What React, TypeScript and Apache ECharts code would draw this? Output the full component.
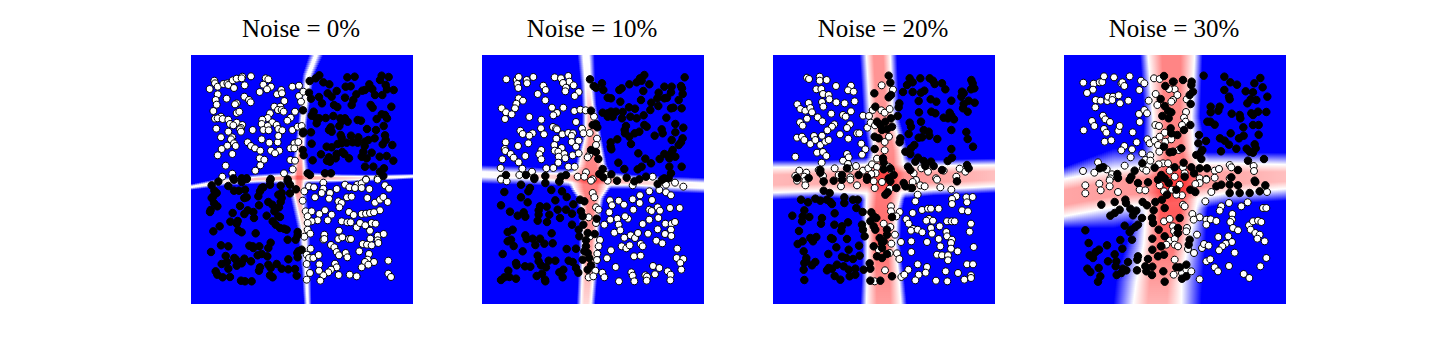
import React, { useEffect, useRef } from "react";
import * as echarts from "echarts";

type P = number[];

const titles = ["Noise = 0%", "Noise = 10%", "Noise = 20%", "Noise = 30%"];

const white0Top: P[] = [[88,92],[90,100],[74,117],[98,110],[115,102],[127,100],[130,105],[143,91],[155,86],[172,80],[170,85],[198,79],[179,106],[147,114],[98,133],[125,146],[92,150],[95,164],[85,183],[155,160],[150,163],[178,140],[192,150],[197,157],[155,189],[163,185],[108,200],[90,206],[98,205],[113,207],[130,209],[135,222],[155,218],[172,225],[168,234],[165,238],[145,226],[94,236],[130,245],[168,245],[203,240],[108,262],[142,262],[138,268],[127,287],[110,297],[147,280],[152,288],[98,316],[142,312],[188,277],[198,288],[210,295],[226,302],[224,325],[238,329],[226,346],[122,347],[142,371],[112,380],[211,362],[242,85],[250,88],[235,104],[258,110],[224,126],[246,118],[276,133],[289,120],[291,130],[298,153],[268,170],[286,170],[279,180],[290,180],[296,185],[330,185],[255,190],[317,203],[307,212],[248,204],[232,209],[230,222],[262,217],[248,228],[275,225],[280,237],[292,241],[235,240],[251,241],[322,240],[338,230],[350,228],[230,268],[253,278],[278,277],[280,258],[328,280],[340,276],[316,295],[328,295],[258,302],[283,302],[270,310],[316,330],[330,332],[323,358],[297,370],[322,110],[342,107],[342,138],[348,155],[355,125],[543,388],[578,385]];
const black0Top: P[] = [[374,93],[392,85],[403,76],[415,97],[433,103],[487,82],[509,80],[590,77],[585,90],[611,81],[372,128],[378,146],[402,141],[411,160],[428,130],[440,140],[455,123],[482,110],[497,109],[514,133],[532,122],[540,120],[553,103],[562,117],[570,135],[592,135],[602,105],[606,118],[626,120],[480,143],[505,150],[447,165],[457,171],[500,165],[557,165],[563,173],[619,170],[354,181],[386,185],[380,197],[393,203],[403,205],[422,204],[445,198],[466,205],[470,214],[480,205],[488,215],[463,228],[395,220],[518,210],[528,212],[575,207],[590,193],[600,195],[606,205],[596,228],[437,232],[432,240],[440,245],[546,237],[573,240],[354,250],[378,247],[355,245],[467,255],[470,263],[498,257],[520,262],[600,256],[569,265],[550,270],[540,275],[602,270],[622,285],[593,283],[539,288],[380,281],[425,290],[440,292],[458,282],[470,280],[485,278],[503,277],[518,278],[353,300],[356,316],[383,331],[408,313],[432,322],[426,332],[435,335],[455,312],[472,306],[478,312],[452,325],[492,325],[535,305],[530,320],[545,325],[560,308],[584,320],[605,318],[625,332],[540,350],[565,350],[597,355],[585,365],[420,370],[438,370],[368,370],[375,375],[145,385],[170,385],[185,385],[257,387],[308,388],[595,378]];
const white0Bottom: P[] = [[415,14],[372,25],[387,28],[415,32],[410,45],[358,40],[435,45],[455,33],[480,20],[493,28],[517,20],[530,16],[510,30],[530,30],[553,33],[543,5],[578,5],[600,22],[612,32],[390,58],[432,62],[353,68],[486,58],[500,56],[460,70],[470,75],[463,88],[547,60],[570,74],[585,65],[595,57],[608,72],[585,97],[362,100],[380,100],[368,115],[420,97],[403,108],[440,110],[398,127],[428,127],[380,130],[368,135],[492,102],[506,111],[530,108],[543,107],[555,105],[567,103],[470,130],[487,133],[497,133],[515,148],[525,135],[541,142],[560,135],[572,137],[555,158],[368,155],[376,167],[358,176],[462,158],[460,183],[472,178],[492,183],[498,183],[418,170],[415,185],[418,183],[556,182],[578,173],[596,168],[578,187],[580,195],[533,198],[546,200],[560,202],[438,201],[448,208],[455,222],[462,232],[482,225],[487,238],[377,212],[523,220],[552,228],[365,230],[372,240],[385,240],[401,231],[548,245],[540,252],[567,252],[550,260],[365,258],[403,259],[450,257],[455,268],[438,275],[430,283],[415,292],[402,278],[375,285],[610,248],[530,268],[494,290],[515,295],[461,291],[365,305],[406,308],[610,287],[618,297]];
const black0Bottom: P[] = [[80,22],[100,11],[147,5],[170,12],[185,3],[130,24],[255,8],[255,20],[287,23],[308,10],[315,20],[333,34],[315,46],[88,38],[95,45],[85,55],[80,60],[147,38],[162,38],[180,35],[185,58],[178,60],[230,30],[225,40],[235,28],[220,55],[290,45],[280,50],[290,60],[287,72],[250,72],[262,80],[222,82],[282,88],[270,95],[97,85],[87,75],[77,96],[75,102],[165,84],[188,97],[205,102],[178,108],[143,105],[207,120],[245,113],[268,100],[280,115],[285,117],[263,130],[272,140],[285,150],[297,152],[305,155],[136,131],[158,129],[155,137],[104,145],[85,160],[160,157],[170,163],[212,166],[338,162],[338,172],[332,185],[308,185],[257,194],[250,210],[108,202],[130,205],[193,203],[203,205],[205,210],[223,205],[78,222],[340,220],[350,215],[337,225],[338,238],[122,234],[148,240],[153,245],[178,242],[218,232],[230,228],[247,235],[310,244],[198,250],[110,258],[126,252],[155,263],[170,256],[130,272],[222,278],[225,268],[250,260],[257,270],[275,258],[290,272],[310,274],[330,273],[92,280],[97,290],[113,298],[135,297],[255,292],[263,298],[335,293],[168,308],[180,310],[200,310]];

const white1Top: P[] = [[91,88],[122,90],[128,81],[124,102],[127,114],[152,90],[153,100],[172,81],[202,107],[209,120],[185,132],[208,151],[128,145],[141,152],[121,161],[77,175],[117,175],[90,187],[107,193],[87,207],[160,201],[196,209],[228,173],[262,173],[243,189],[232,196],[236,82],[255,85],[277,78],[280,95],[261,99],[270,113],[268,124],[293,106],[308,126],[296,138],[295,183],[313,179],[329,181],[354,200],[300,216],[133,242],[140,252],[170,250],[160,257],[195,235],[204,253],[231,231],[240,235],[243,238],[259,253],[277,249],[291,250],[287,258],[241,266],[287,276],[308,272],[318,236],[341,249],[322,250],[89,277],[126,288],[157,280],[86,297],[88,303],[235,285],[300,290],[257,294],[196,300],[190,313],[236,302],[247,305],[265,312],[248,320],[290,316],[308,310],[268,325],[104,312],[113,323],[148,318],[79,328],[196,328],[128,337],[74,354],[139,356],[211,355],[232,354],[247,338],[277,350],[296,350],[168,365],[130,375],[75,386],[363,266],[360,285],[340,315],[335,322],[305,380],[330,367],[325,380],[350,388],[390,375],[530,380]];
const black1Top: P[] = [[342,88],[353,108],[360,113],[378,100],[382,120],[437,115],[430,120],[460,103],[482,97],[492,85],[505,75],[497,92],[520,103],[626,82],[502,123],[565,110],[587,110],[615,108],[618,115],[585,127],[620,132],[548,128],[544,145],[565,145],[573,143],[608,150],[395,143],[405,145],[433,155],[495,150],[526,158],[547,168],[585,175],[592,173],[617,175],[459,172],[477,176],[345,182],[380,188],[395,190],[395,200],[405,185],[410,200],[420,185],[440,186],[438,205],[463,200],[482,205],[503,196],[523,180],[571,203],[350,225],[360,222],[364,232],[450,228],[446,240],[505,225],[512,230],[598,222],[622,233],[557,238],[598,247],[447,250],[490,245],[476,250],[460,260],[536,257],[560,250],[424,268],[404,277],[465,282],[587,270],[620,265],[615,277],[608,285],[404,290],[406,298],[345,300],[360,306],[487,310],[590,300],[585,310],[565,312],[580,325],[598,320],[367,327],[508,326],[551,327],[427,338],[525,340],[497,350],[485,358],[445,357],[580,350],[617,350],[380,357],[370,372],[406,373],[382,382],[90,375],[150,375],[175,383],[208,378],[255,380],[270,375],[452,383],[490,388],[510,380],[565,385],[578,385],[585,370]];
const white1Bottom: P[] = [[75,5],[92,10],[250,12],[345,8],[395,8],[470,22],[520,40],[550,36],[597,14],[570,20],[622,26],[570,43],[585,52],[350,45],[355,58],[360,88],[368,95],[402,67],[428,68],[408,82],[444,80],[470,64],[491,75],[492,52],[528,66],[472,95],[520,95],[527,99],[545,88],[552,98],[582,90],[611,90],[400,103],[403,125],[424,122],[456,122],[447,115],[428,140],[385,140],[338,118],[360,135],[500,138],[520,125],[547,120],[568,137],[587,137],[597,132],[545,154],[567,168],[585,155],[586,174],[415,164],[433,157],[445,179],[464,172],[477,180],[486,165],[516,167],[342,175],[372,186],[368,205],[541,188],[559,196],[494,198],[500,205],[437,205],[451,211],[461,202],[405,217],[364,227],[363,246],[393,241],[474,235],[494,233],[604,212],[602,240],[622,243],[613,255],[616,275],[419,267],[358,278],[379,284],[385,298],[338,298],[352,295],[466,283],[470,293],[531,264],[550,270],[537,289],[575,280],[584,290],[583,307],[508,292],[513,296],[512,308],[429,310],[475,310]];
const black1Bottom: P[] = [[135,20],[175,3],[208,15],[250,10],[423,8],[475,10],[545,18],[558,5],[85,42],[162,30],[157,40],[135,58],[155,73],[75,82],[226,36],[258,40],[272,57],[238,67],[312,65],[325,70],[292,79],[192,85],[212,86],[188,97],[102,101],[125,113],[143,103],[148,116],[188,110],[220,110],[245,95],[270,95],[288,107],[315,100],[320,115],[252,120],[185,128],[213,132],[288,140],[322,140],[362,122],[95,162],[110,155],[227,166],[308,155],[148,172],[152,183],[170,182],[192,182],[105,185],[95,190],[113,204],[178,201],[205,197],[230,196],[310,175],[335,165],[356,168],[330,187],[272,213],[300,212],[330,205],[325,220],[140,220],[80,228],[185,233],[120,255],[122,262],[147,265],[163,266],[188,250],[218,248],[238,248],[195,262],[210,268],[278,248],[290,252],[320,245],[340,240],[335,225],[345,262],[335,275],[300,270],[307,284],[97,278],[262,275],[250,283],[260,298],[198,287],[182,294],[75,306],[85,298],[100,297],[120,302],[207,305],[208,310]];

const white2Top: P[] = [[120,83],[126,87],[158,80],[158,92],[179,90],[207,108],[148,118],[163,117],[168,132],[185,135],[187,148],[165,156],[169,170],[208,157],[233,160],[252,107],[243,121],[260,125],[263,154],[91,163],[125,159],[100,177],[115,182],[130,174],[135,187],[193,191],[120,206],[99,217],[107,227],[152,202],[166,214],[202,223],[195,230],[181,241],[228,195],[236,200],[252,184],[249,223],[240,234],[288,197],[306,198],[301,233],[311,218],[324,226],[219,253],[244,266],[270,250],[277,250],[90,263],[105,260],[112,270],[130,282],[141,258],[145,270],[160,285],[175,275],[185,270],[165,257],[283,281],[295,298],[285,314],[150,308],[168,306],[178,318],[85,320],[164,338],[240,312],[245,322],[228,332],[243,342],[267,348],[330,326],[344,106],[378,119],[317,180],[343,181],[353,188],[368,177],[353,276],[366,260],[353,301],[203,355],[248,356],[288,362],[304,355],[315,343],[330,351],[326,370],[97,362],[85,378],[118,368],[112,380],[155,360],[168,378],[215,375],[250,382],[313,372],[365,350],[372,360],[463,355],[440,370],[483,365],[507,385],[530,362],[568,380],[578,356],[595,365],[447,390]];
const black2Top: P[] = [[365,77],[370,98],[322,130],[372,135],[365,142],[325,170],[397,160],[395,172],[392,198],[408,126],[437,126],[462,128],[472,122],[428,85],[437,97],[420,105],[460,85],[488,85],[498,92],[503,102],[525,100],[535,118],[613,90],[617,100],[622,115],[612,118],[585,125],[590,130],[583,140],[553,152],[491,148],[508,155],[455,153],[605,152],[623,158],[590,162],[588,175],[602,185],[456,187],[493,185],[505,190],[548,188],[530,203],[543,205],[553,197],[561,208],[462,215],[428,218],[432,230],[425,252],[330,215],[340,225],[355,215],[372,205],[375,230],[345,240],[360,238],[323,260],[335,265],[400,265],[398,277],[470,240],[485,245],[465,262],[455,263],[487,257],[553,240],[598,246],[602,267],[511,267],[618,290],[442,285],[432,295],[415,305],[430,312],[553,297],[323,297],[348,325],[350,338],[555,323],[542,333],[453,323],[445,335],[470,333],[492,335],[500,348],[423,350],[430,360],[475,348],[600,345],[605,355],[525,360],[380,375],[370,355],[350,358],[275,375],[240,355],[300,382],[225,375],[160,360],[365,385],[160,368]];
const white2Bottom: P[] = [[90,8],[115,8],[115,22],[170,12],[222,25],[250,5],[270,22],[320,10],[323,30],[345,12],[368,32],[430,30],[437,12],[460,22],[473,25],[510,5],[520,28],[553,35],[452,50],[445,70],[568,55],[555,63],[555,78],[598,58],[617,57],[600,73],[585,97],[603,100],[372,85],[372,100],[398,102],[388,115],[437,105],[465,96],[483,92],[492,92],[515,92],[418,124],[425,137],[438,153],[432,158],[452,155],[466,163],[486,123],[478,128],[498,128],[518,145],[492,150],[495,167],[540,130],[554,130],[563,130],[612,137],[608,161],[538,162],[540,175],[555,185],[515,183],[552,195],[520,205],[480,192],[433,190],[402,192],[350,137],[370,147],[384,170],[373,197],[335,215],[620,207],[552,212],[572,220],[510,230],[525,232],[543,232],[433,222],[390,226],[397,243],[368,225],[543,247],[452,259],[480,267],[424,275],[476,284],[455,290],[403,297],[412,290],[354,277],[323,310],[445,307],[507,308],[541,310],[536,280],[573,285],[592,305],[612,292],[612,300],[600,259],[618,259]];
const black2Bottom: P[] = [[90,0],[200,8],[170,10],[125,0],[225,5],[300,5],[370,10],[410,15],[415,25],[435,30],[388,30],[170,38],[188,45],[355,50],[362,43],[570,10],[102,65],[123,73],[145,62],[160,68],[180,65],[190,72],[195,78],[232,58],[232,75],[258,65],[272,65],[268,90],[287,102],[112,97],[76,113],[107,115],[127,117],[105,130],[165,120],[162,137],[203,106],[202,140],[243,133],[225,145],[223,158],[96,159],[313,103],[320,115],[328,120],[310,130],[320,145],[325,155],[360,155],[285,140],[288,155],[293,175],[375,117],[148,177],[130,180],[138,190],[107,190],[92,198],[192,180],[197,183],[240,183],[208,208],[245,215],[276,203],[338,180],[350,190],[345,195],[360,170],[320,205],[345,210],[110,220],[184,228],[278,233],[225,236],[238,240],[258,243],[330,235],[345,240],[360,228],[118,240],[118,250],[145,252],[112,255],[110,275],[135,262],[210,260],[230,265],[245,275],[185,270],[195,272],[180,277],[265,272],[290,275],[308,256],[310,272],[203,294],[220,305],[248,295],[265,290],[112,306],[310,308],[340,308],[375,295]];

const white3Top: P[] = [[76,98],[107,101],[105,119],[87,129],[125,97],[133,96],[138,79],[168,82],[215,79],[190,100],[193,97],[199,108],[249,92],[259,100],[244,120],[113,150],[128,152],[148,153],[150,140],[165,140],[182,136],[186,160],[211,152],[112,172],[163,150],[272,152],[288,85],[305,87],[293,132],[298,165],[348,95],[350,118],[333,117],[358,135],[345,150],[340,155],[386,148],[384,186],[243,192],[259,180],[267,190],[245,216],[135,197],[142,208],[156,216],[102,213],[109,228],[77,241],[138,237],[145,248],[140,275],[160,271],[181,242],[185,228],[224,247],[292,225],[303,228],[320,248],[378,203],[383,215],[372,225],[236,277],[268,268],[275,280],[290,272],[305,260],[300,285],[322,275],[340,268],[199,288],[190,301],[222,298],[218,322],[200,347],[304,305],[253,310],[277,316],[262,330],[277,332],[255,355],[315,340],[302,343],[330,340],[362,300],[335,362],[265,362],[120,337],[138,352],[146,358],[162,373],[75,363],[109,368],[157,385],[375,352],[470,362],[483,357],[515,345],[520,352],[587,348],[588,363],[425,385],[470,383],[445,387],[350,380],[380,370],[515,385]];
const black3Top: P[] = [[318,78],[322,108],[308,147],[345,95],[375,90],[401,95],[400,105],[437,77],[405,125],[395,135],[398,162],[320,168],[330,182],[340,187],[313,198],[332,205],[338,235],[397,225],[378,240],[358,255],[340,250],[423,255],[421,280],[444,273],[448,215],[470,224],[457,215],[458,187],[458,170],[485,170],[481,182],[499,80],[517,97],[537,104],[499,120],[563,124],[585,127],[589,100],[607,84],[614,112],[628,140],[513,140],[515,148],[595,150],[578,148],[568,160],[521,191],[545,195],[547,205],[580,190],[600,185],[625,186],[585,195],[556,232],[585,225],[602,225],[518,250],[543,265],[557,257],[602,254],[486,265],[500,272],[513,284],[535,296],[566,296],[590,283],[593,295],[489,304],[575,305],[585,308],[570,332],[618,327],[433,300],[415,315],[430,327],[430,305],[370,295],[318,290],[335,307],[345,305],[350,352],[377,338],[253,340],[290,353],[400,352],[425,355],[447,355],[230,362],[135,352],[125,355],[178,372],[220,380],[310,375],[380,380],[408,370],[540,360],[320,385],[520,382],[590,392]];
const white3Bottom: P[] = [[82,22],[82,46],[124,17],[128,37],[155,7],[155,25],[180,42],[245,35],[262,37],[305,22],[330,10],[365,20],[318,40],[342,35],[372,52],[355,50],[425,15],[445,5],[412,18],[460,42],[627,42],[442,70],[513,75],[569,73],[550,85],[490,85],[485,98],[523,108],[615,90],[625,90],[375,80],[380,85],[403,108],[425,118],[407,125],[445,125],[458,124],[475,129],[445,140],[318,130],[335,123],[345,145],[387,150],[385,160],[348,160],[354,172],[522,125],[517,132],[525,150],[540,157],[573,142],[585,130],[600,128],[610,132],[578,155],[592,165],[605,170],[598,182],[620,190],[417,170],[481,177],[511,175],[522,192],[503,197],[493,205],[483,217],[530,224],[432,210],[438,198],[452,203],[335,188],[350,183],[350,200],[360,205],[325,200],[308,205],[390,213],[408,225],[350,245],[625,240],[445,250],[457,244],[513,264],[607,265],[470,268],[480,280],[557,288],[574,300],[425,304],[347,290],[372,285],[385,275],[400,280]];
const black3Bottom: P[] = [[180,0],[240,15],[270,13],[300,5],[332,15],[215,5],[412,42],[355,35],[397,35],[475,25],[490,20],[515,20],[540,22],[592,12],[622,22],[605,40],[515,45],[545,45],[575,45],[130,80],[170,72],[202,65],[204,75],[254,72],[267,82],[292,72],[312,65],[327,50],[320,90],[287,97],[185,95],[170,105],[157,113],[217,92],[235,98],[225,112],[252,120],[282,120],[285,135],[365,120],[200,143],[240,140],[232,147],[220,155],[215,162],[82,157],[302,155],[320,175],[360,150],[360,165],[395,185],[222,185],[187,186],[283,182],[92,195],[147,202],[193,212],[123,215],[113,222],[95,232],[105,240],[170,229],[283,215],[392,200],[310,205],[318,230],[300,235],[240,235],[238,245],[150,250],[210,252],[270,243],[175,250],[173,265],[122,270],[88,272],[97,282],[195,272],[205,277],[190,285],[237,277],[262,265],[265,280],[283,266],[316,280],[282,291],[127,295],[176,291],[120,311],[320,311],[355,268],[365,268],[385,260],[372,302],[385,295]];

// Band stations: [position along the band, centre, outer half width, inner half width, red strength]
const vertical0: P[] = [[0,375,22,4,0],[60,352,18,5,0],[200,335,14,5,0.05],[300,327,20,9,0.3],[360,325,32,16,0.5],[420,322,26,12,0.35],[520,338,20,6,0.08],[650,346,14,3,0],[747,350,12,2,0]];
const horizontal0: P[] = [[0,396,9,2,0],[100,380,13,4,0.08],[200,372,15,6,0.25],[320,368,20,9,0.35],[450,370,13,6,0.2],[560,368,10,3,0.05],[666,364,8,2,0]];
const vertical1: P[] = [[0,312,26,9,0],[90,318,22,8,0.02],[150,322,22,10,0.2],[250,330,30,20,0.42],[330,328,48,36,0.48],[370,325,70,58,0.5],[400,325,62,50,0.5],[430,325,42,30,0.5],[470,325,34,22,0.45],[620,320,30,18,0.35],[747,312,28,15,0.15]];
const horizontal1: P[] = [[0,358,28,8,0],[120,362,28,8,0.05],[220,366,26,10,0.2],[320,372,30,18,0.4],[450,380,22,10,0.22],[560,388,24,8,0.08],[666,392,24,8,0]];
const vertical2: P[] = [[0,316,56,36,0.42],[185,325,54,34,0.42],[285,345,60,40,0.45],[360,340,72,56,0.5],[470,325,62,46,0.55],[570,325,57,42,0.6],[670,330,64,48,0.45],[747,332,70,52,0.38]];
const horizontal2: P[] = [[0,375,60,38,0.28],[150,372,56,36,0.32],[320,372,66,46,0.45],[480,368,54,36,0.38],[666,362,52,32,0.25]];
const vertical3: P[] = [[0,322,94,70,0.48],[185,325,84,58,0.48],[285,330,95,60,0.5],[360,335,120,80,0.55],[470,320,110,74,0.65],[570,305,120,66,0.55],[680,285,130,68,0.38],[747,280,132,72,0.3]];
const horizontal3: P[] = [[0,428,92,56,0.35],[150,400,120,56,0.38],[320,385,95,60,0.45],[480,370,78,46,0.35],[666,365,72,36,0.25]];

const panelLefts = [191, 482, 773, 1064];
const panelTop = 55;
const panelWidth = 222;
const panelHeight = 249;
const domainX = 666;
const domainY = 747;
const topCropDx = 18;
const topCropDy = 15;
const bottomCropDy = -369;

const panels = [
  { white: [white0Top, white0Bottom], black: [black0Top, black0Bottom], v: vertical0, h: horizontal0 },
  { white: [white1Top, white1Bottom], black: [black1Top, black1Bottom], v: vertical1, h: horizontal1 },
  { white: [white2Top, white2Bottom], black: [black2Top, black2Bottom], v: vertical2, h: horizontal2 },
  { white: [white3Top, white3Bottom], black: [black3Top, black3Bottom], v: vertical3, h: horizontal3 },
];

const merge = (parts: P[][]) => [
  ...parts[0].map(([x, y]) => [x - topCropDx, y - topCropDy]),
  ...parts[1].map(([x, y]) => [x - topCropDx, y - bottomCropDy]),
];

function bandSeries(stations: P[], vertical: boolean, layer: "white" | "red", panel: number) {
  return {
    type: "custom",
    xAxisIndex: panel,
    yAxisIndex: panel,
    z: layer === "white" ? 1 : 2,
    silent: true,
    clip: true,
    data: stations,
    encode: { x: vertical ? 1 : 0, y: vertical ? 0 : 1 },
    renderItem: (params: any, api: any) => {
      const a = stations[params.dataIndex];
      const b = stations[params.dataIndex + 1];
      if (!b) return null;
      const along = (v: number) => (vertical ? api.coord([0, v])[1] : api.coord([v, 0])[0]);
      const cross = (v: number) => (vertical ? api.coord([v, 0])[0] : api.coord([0, v])[1]);
      const pa = Math.round(along(a[0]));
      const pb = Math.round(along(b[0]));
      const children: any[] = [];
      const step = 2;
      for (let p = pa; p < pb; p += step) {
        const size = Math.min(step, pb - p);
        const t = (p + size / 2 - pa) / (pb - pa);
        const mix = (i: number) => a[i] + (b[i] - a[i]) * t;
        const c = mix(1), o = mix(2), i = mix(3), peak = mix(4);
        if (layer === "red" && peak <= 0.005) continue;
        const lo = cross(c - o);
        const hi = cross(c + o);
        const m = (o - i) / (2 * o);
        const n = (o - 0.4 * i) / (2 * o);
        const stops =
          layer === "white"
            ? [
                { offset: 0, color: "rgba(255,255,255,0)" },
                { offset: m, color: "rgba(255,255,255,1)" },
                { offset: 1 - m, color: "rgba(255,255,255,1)" },
                { offset: 1, color: "rgba(255,255,255,0)" },
              ]
            : [
                { offset: m, color: "rgba(255,0,0,0)" },
                { offset: n, color: `rgba(255,0,0,${peak})` },
                { offset: 1 - n, color: `rgba(255,0,0,${peak})` },
                { offset: 1 - m, color: "rgba(255,0,0,0)" },
              ];
        const fill = vertical
          ? new echarts.graphic.LinearGradient(lo, 0, hi, 0, stops, true)
          : new echarts.graphic.LinearGradient(0, lo, 0, hi, stops, true);
        children.push({
          type: "rect",
          shape: vertical
            ? { x: lo, y: p, width: hi - lo, height: size }
            : { x: p, y: lo, width: size, height: hi - lo },
          style: { fill },
        });
      }
      return { type: "group", children };
    },
  };
}

function buildOption() {
  const grid: any[] = [];
  const xAxis: any[] = [];
  const yAxis: any[] = [];
  const series: any[] = [];
  const title: any[] = [];
  panels.forEach((panel, k) => {
    grid.push({
      left: panelLefts[k],
      top: panelTop,
      width: panelWidth,
      height: panelHeight,
      show: true,
      backgroundColor: "#0000ff",
      borderWidth: 0,
    });
    xAxis.push({ type: "value", gridIndex: k, min: 0, max: domainX, show: false });
    yAxis.push({ type: "value", gridIndex: k, min: 0, max: domainY, inverse: true, show: false });
    title.push({
      text: titles[k],
      left: panelLefts[k] + panelWidth / 2 - 1,
      top: 16,
      padding: 0,
      textAlign: "center",
      textStyle: { fontFamily: "Liberation Serif", fontSize: 25, fontWeight: "normal", color: "#000" },
    });
    series.push(
      bandSeries(panel.v, true, "white", k),
      bandSeries(panel.h, false, "white", k),
      bandSeries(panel.v, true, "red", k),
      bandSeries(panel.h, false, "red", k),
      {
        type: "scatter",
        xAxisIndex: k,
        yAxisIndex: k,
        z: 3,
        symbolSize: 7,
        silent: true,
        itemStyle: { color: "#ffffff", borderColor: "#000000", borderWidth: 1, opacity: 1 },
        data: merge(panel.white),
      },
      {
        type: "scatter",
        xAxisIndex: k,
        yAxisIndex: k,
        z: 4,
        symbolSize: 7.5,
        silent: true,
        itemStyle: { color: "#000000", borderColor: "#000000", borderWidth: 1, opacity: 1 },
        data: merge(panel.black),
      }
    );
  });
  return { animation: false, backgroundColor: "#ffffff", title, grid, xAxis, yAxis, series };
}

export default function App() {
  const ref = useRef<HTMLDivElement>(null);
  useEffect(() => {
    const chart = echarts.init(ref.current!, undefined, { renderer: "svg" });
    chart.setOption(buildOption() as any);
    return () => chart.dispose();
  }, []);
  return <div ref={ref} style={{ position: "fixed", left: 0, top: 0, width: 1440, height: 360 }} />;
}
